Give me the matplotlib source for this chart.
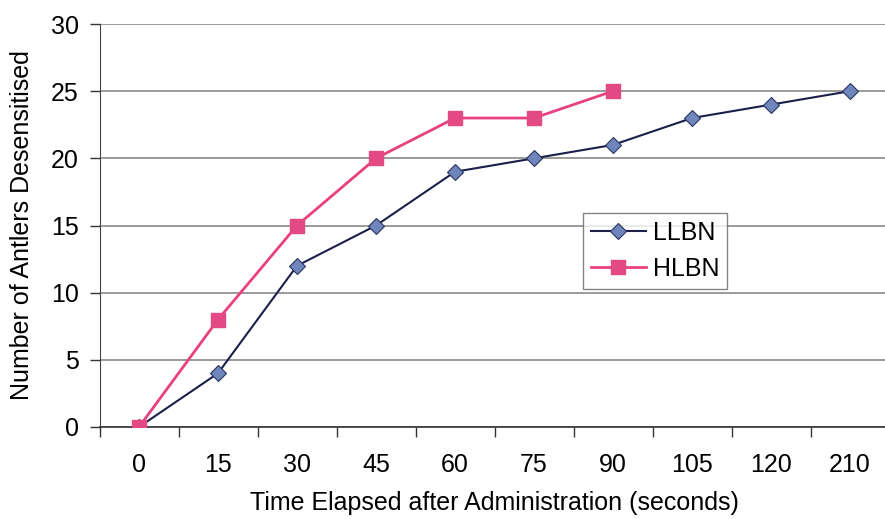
import matplotlib
matplotlib.use("Agg")
import matplotlib.pyplot as plt
import numpy as np

plt.rcParams['font.family'] = ['Liberation Sans', 'DejaVu Sans']

times = ["0", "15", "30", "45", "60", "75", "90", "105", "120", "210"]
llbn = [0, 4, 12, 15, 19, 20, 21, 23, 24, 25]
hlbn = [0, 8, 15, 20, 23, 23, 25]

fig = plt.figure(figsize=(8.85, 5.19), dpi=100)
ax = fig.add_axes([99.5 / 885, 92 / 519, 790 / 885, 403 / 519])

x_all = np.arange(len(times))
ax.plot(x_all, llbn, color="#1c1f4a", lw=1.5, marker="D", ms=8,
        mfc="#6f86bd", mec="#2a3560", mew=0.8, label="LLBN", zorder=3)
ax.plot(x_all[:len(hlbn)], hlbn, color="#e8417f", lw=2, marker="s", ms=10,
        mfc="#e34a84", mec="#e34a84", label="HLBN", zorder=4)

ax.set_xlim(-0.5, len(times) - 0.5)
ax.set_ylim(0, 30)
ax.set_yticks(np.arange(0, 31, 5))
ax.set_xticks(x_all)
ax.set_xticklabels(times)
ax.set_xticks(np.arange(-0.5, len(times), 1), minor=True)
ax.tick_params(axis="x", which="major", length=0, pad=19, labelsize=18)
ax.tick_params(axis="x", which="minor", length=7, width=1, color="#333333", direction="out")
ax.tick_params(axis="y", length=7, width=1, color="#333333", pad=8, labelsize=18)

ax.yaxis.grid(True, color="#8a8a8a", lw=1.2)
ax.set_axisbelow(True)
for s in ("top", "right"):
    ax.spines[s].set_visible(False)
ax.spines["left"].set_color("#444444")
ax.spines["bottom"].set_color("#333333")
ax.spines["bottom"].set_linewidth(1.2)

ax.set_xlabel("Time Elapsed after Administration (seconds)", fontsize=18, labelpad=10)
ax.set_ylabel("Number of Antlers Desensitised", fontsize=18, labelpad=12)

leg = ax.legend(loc="upper left", bbox_to_anchor=((583 - 99.5) / 790, (427 - 213) / 403),
                borderaxespad=0, fontsize=18, frameon=True, fancybox=False,
                edgecolor="#666666", handlelength=2.2, borderpad=0.3,
                labelspacing=0.5, handletextpad=0.3)
leg.get_frame().set_linewidth(1)

fig.savefig("out.png", dpi=100)
